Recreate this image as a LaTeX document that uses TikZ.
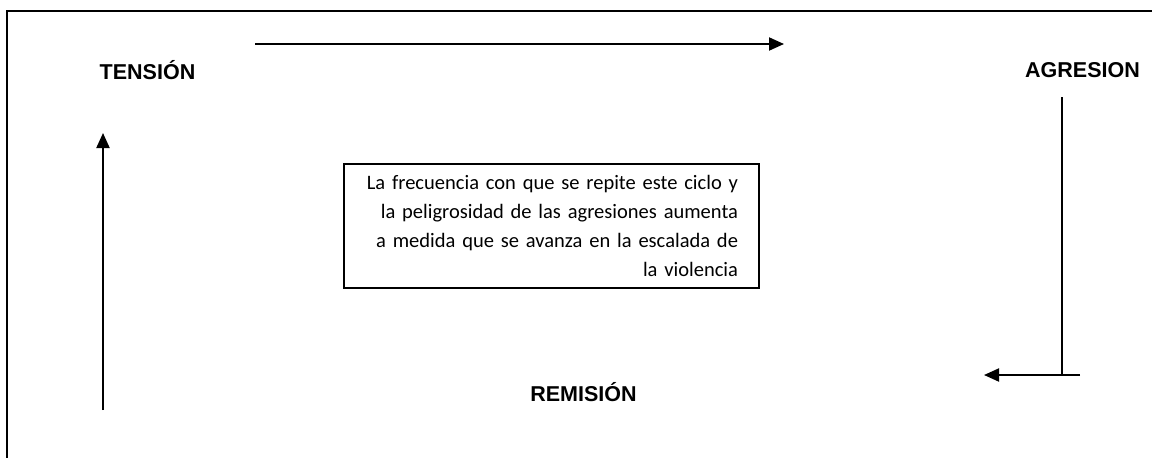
\documentclass[tikz,border=0pt]{standalone}
\usepackage{fontspec}
\setmainfont{Liberation Sans}
\newfontfamily\notefont{Carlito}
\usetikzlibrary{arrows.meta}

\tikzset{
 fase/.style={font=\fontsize{21.5}{24}\selectfont\bfseries, inner sep=0pt},
 nota/.style={draw, line width=1.5pt, font=\notefont\fontsize{20.5}{29}\selectfont,
   text width=373pt, align=right, inner xsep=21pt, minimum height=124pt, minimum width=415pt},
 flecha/.style={line width=2pt, -{Triangle[length=15pt,width=13pt]}}
}

\begin{document}
\begin{tikzpicture}[x=1pt,y=-1pt]
\useasboundingbox (0,0) rectangle (1152,458);
\clip (0,0) rectangle (1152,458);
\fill[white] (0,0) rectangle (1152,458);
\draw[line width=1.5pt] (7,475) -- (7,11) -- (1170,11);

\node[fase] (tension) at (147.5,70) {TENSIÓN};
\node[fase] (agresion) at (1082.5,70) {AGRESION};
\node[fase] (remision) at (583.5,392) {REMISIÓN};
\node[nota] (ciclo) at (551.5,226) {La frecuencia con que se repite este ciclo y\\
 la peligrosidad de las agresiones aumenta\\
 a medida que se avanza en la escalada de\\
 la violencia};

\coordinate (a1) at (255,44);
\coordinate (a2) at (784,44);
\coordinate (b1) at (1062,97);
\coordinate (b2) at (1062,375);
\coordinate (b3) at (1080,375);
\coordinate (b4) at (984,375);
\coordinate (c1) at (103,410);
\coordinate (c2) at (103,133);

\draw[flecha] (a1) -- (a2);
\draw[line width=2pt] (b1) -- (b2);
\draw[flecha] (b3) -- (b4);
\draw[flecha] (c1) -- (c2);
\end{tikzpicture}
\end{document}
